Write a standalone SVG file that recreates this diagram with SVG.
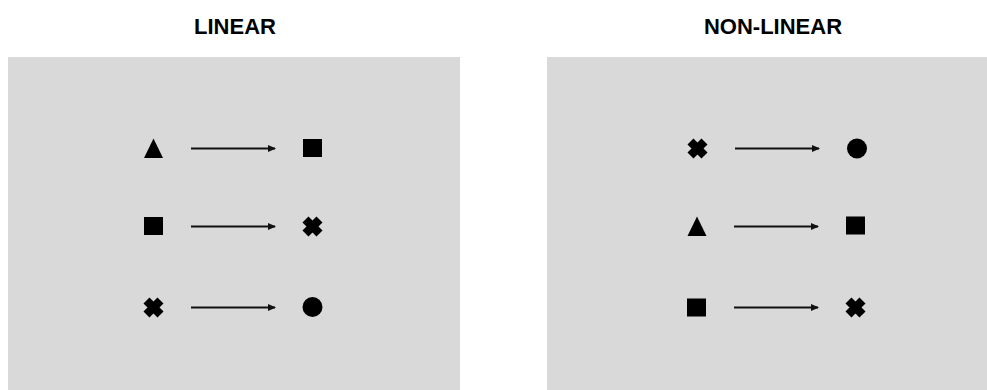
<svg xmlns="http://www.w3.org/2000/svg" width="987" height="390" viewBox="0 0 987 390">
  <defs>
    <style>
      .panel { fill: #d9d9d9; }
      .title { font-family: "Liberation Sans", Arial, sans-serif; font-weight: bold; font-size: 22px; fill: #000; text-anchor: middle; }
      .shape { fill: #000; }
      .cross { stroke: #000; stroke-width: 8.5; stroke-linecap: square; fill: none; }
      .arrow { stroke: #111; stroke-width: 2; fill: none; marker-end: url(#ah); }
    </style>
    <marker id="ah" markerWidth="8" markerHeight="7" refX="7" refY="3.5" orient="auto" markerUnits="userSpaceOnUse">
      <path d="M0,0 L8,3.5 L0,7 Z" fill="#111"/>
    </marker>
    <g id="tri"><path d="M0,-10 L9.5,9.5 L-9.5,9.5 Z"/></g>
    <g id="sq"><rect x="-9.5" y="-9" width="19" height="18"/></g>
    <g id="x"><path class="cross" d="M-4,-4 L4,4 M4,-4 L-4,4"/></g>
    <g id="ci"><circle r="10"/></g>
  </defs>
  <rect width="987" height="390" fill="#ffffff"/>

  <g id="panel-linear">
    <rect class="panel" x="8" y="57" width="452" height="333"/>
    <text class="title" x="235" y="34">LINEAR</text>
  </g>
  <g id="panel-nonlinear">
    <rect class="panel" x="547" y="57" width="440" height="333"/>
    <text class="title" x="773" y="34">NON-LINEAR</text>
  </g>

  <g id="linear-r1-from" class="shape"><use href="#tri" x="153.5" y="148.5"/></g>
  <g id="linear-r1-to" class="shape"><use href="#sq" x="312.5" y="148"/></g>
  <g id="linear-r2-from" class="shape"><use href="#sq" x="153.5" y="226"/></g>
  <g id="linear-r2-to" class="shape"><use href="#x" x="312.5" y="226.5"/></g>
  <g id="linear-r3-from" class="shape"><use href="#x" x="153.5" y="307.5"/></g>
  <g id="linear-r3-to" class="shape"><use href="#ci" x="312.5" y="307"/></g>

  <g id="nonlinear-r1-from" class="shape"><use href="#x" x="697.5" y="148.5"/></g>
  <g id="nonlinear-r1-to" class="shape"><use href="#ci" x="857" y="148.5"/></g>
  <g id="nonlinear-r2-from" class="shape"><use href="#tri" x="697" y="226.5"/></g>
  <g id="nonlinear-r2-to" class="shape"><use href="#sq" x="855.5" y="225.5"/></g>
  <g id="nonlinear-r3-from" class="shape"><use href="#sq" x="696.5" y="307.5"/></g>
  <g id="nonlinear-r3-to" class="shape"><use href="#x" x="855.5" y="307.5"/></g>

  <g id="connectors">
    <line class="arrow" x1="191" y1="148.5" x2="275" y2="148.5"/>
    <line class="arrow" x1="191" y1="226.5" x2="275" y2="226.5"/>
    <line class="arrow" x1="191" y1="307.5" x2="275" y2="307.5"/>
    <line class="arrow" x1="735" y1="148.5" x2="819" y2="148.5"/>
    <line class="arrow" x1="734" y1="226.5" x2="818" y2="226.5"/>
    <line class="arrow" x1="734" y1="307.5" x2="818" y2="307.5"/>
  </g>
</svg>
